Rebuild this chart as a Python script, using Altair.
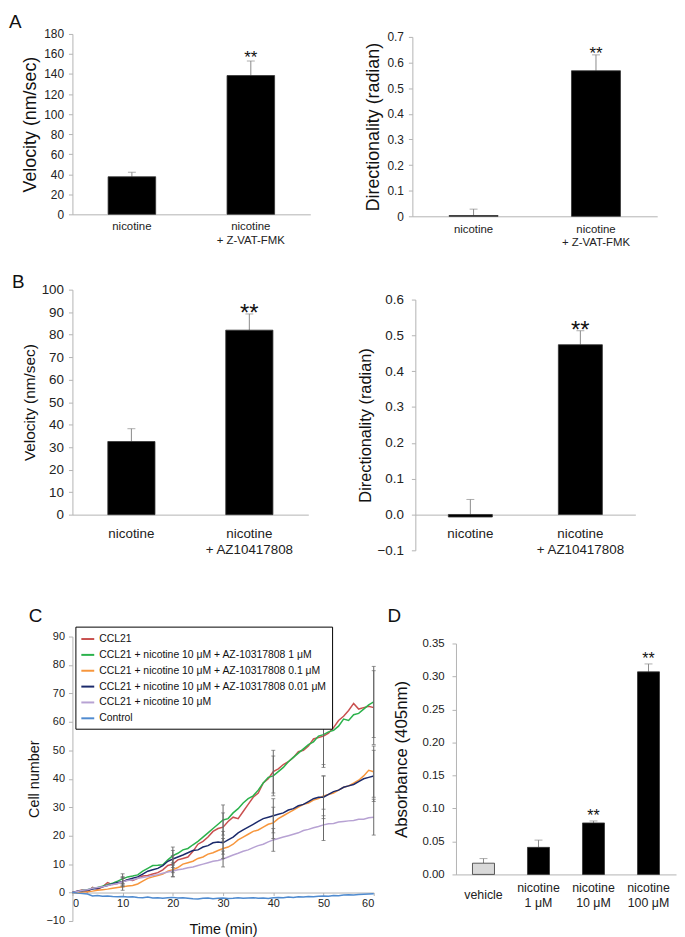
import altair as alt
import pandas as pd

FONT = "Liberation Sans"
AX = "#b3b3b3"
ERR = "#8a8a8a"

# ---------------- data ----------------
a_cats = ["nicotine", "nicotine|+ Z-VAT-FMK"]
a_vel = [37.5, 138.5]
a_vel_err = [4.5, 14.5]
a_dir = [0.003, 0.568]
a_dir_err = [0.025, 0.062]
a_star = ["", "**"]

b_cats = ["nicotine", "nicotine|+ AZ10417808"]
b_vel = [32.5, 82.0]
b_vel_err = [5.7, 7.2]
b_dir = [-0.007, 0.474]
b_dir_err = [0.049, 0.039]
b_star = ["", "**"]

d_cats = ["vehicle", "nicotine|1 μM", "nicotine|10 μM", "nicotine|100 μM"]
d_abs = [0.017, 0.041, 0.078, 0.307]
d_abs_err = [0.007, 0.011, 0.003, 0.012]
d_star = ["", "", "**", "**"]

c_names = [
    "CCL21",
    "CCL21 + nicotine 10 μM + AZ-10317808 1 μM",
    "CCL21 + nicotine 10 μM + AZ-10317808 0.1 μM",
    "CCL21 + nicotine 10 μM + AZ-10317808 0.01 μM",
    "CCL21 + nicotine 10 μM",
    "Control",
]
c_colors = ["#c9504f", "#2bb24c", "#f7963c", "#1b2a6b", "#b7a2d3", "#4f8bd0"]
c_time = list(range(0, 61))
c_red = [0, 0.5, 1.0, 0.2, 1.8, 1.2, 2.0, 3.5, 2.8, 3.2, 3.8, 4.5, 4.2, 5.0, 5.8, 6.0, 6.5, 7.0, 8.0, 9.5,
         10, 11.5, 12, 12.5, 14.5, 17, 18, 19.5, 21.5, 22.5, 23, 25, 26.5, 26, 28.5, 31, 33.5, 35, 38.5, 40,
         42.5, 43.5, 45, 46, 47.5, 49.5, 50, 51.5, 54, 54.5, 55, 56, 58, 60.5, 62, 64, 66.5, 64.5, 65, 65.5, 65]
c_green = [0, 0.3, 0.8, 1.0, 1.5, 1.8, 2.2, 2.8, 3.3, 4.0, 4.8, 5.5, 5.8, 6.2, 7.5, 8.5, 9.5, 9.6, 9.8, 11.5,
           13, 13.8, 15, 15.5, 16.8, 18, 19.5, 21, 22.5, 24, 25.5, 26, 28, 29.5, 31.5, 33, 34, 36, 38.5, 40.5,
           41, 42.5, 44, 46, 47.5, 49, 50.5, 52, 53, 55, 55.5, 56.5, 57, 58.5, 61, 60.5, 62.5, 63, 64.5, 66, 67]
c_orange = [0, -0.2, 0.2, 0.3, 0.5, 0.8, 1.0, 1.2, 1.5, 1.8, 2.0, 2.3, 2.5, 3.0, 4.0, 5.0, 5.5, 6.0, 6.5, 7.5,
            8.0, 8.8, 10, 10.5, 11, 12, 12.5, 13.5, 14, 14.8, 15.5, 16, 17, 18.5, 19.5, 20.5, 21.5, 22, 23, 24,
            24.5, 26, 27, 28, 29, 30, 31, 31.5, 32.5, 33, 34, 34.5, 35, 36, 37, 37.5, 38.5, 39.5, 41, 43, 42.5]
c_navy = [0, 0.5, 0.6, 0.8, 1.2, 1.5, 2.0, 2.5, 3.0, 3.5, 3.8, 4.5, 5.0, 5.5, 6.5, 7.5, 8.0, 8.5, 9.5, 11,
          11.8, 12.5, 13.2, 14, 14.8, 15, 16, 16.5, 17.5, 17.8, 17.5, 18.5, 19.5, 21, 22, 23, 24, 25, 26, 26.5,
          27, 27.5, 28, 29, 29.5, 30.5, 31, 32, 33, 33.5, 33.5, 34.5, 35.5, 36, 37, 37.5, 38, 39, 40, 40.5, 41]
c_purple = [0, 0.4, 0.8, 1.0, 1.5, 1.8, 2.0, 2.5, 2.8, 3.2, 3.8, 4.2, 4.5, 5.0, 5.3, 5.6, 6.0, 6.3, 6.8, 7.2,
            7.6, 8.0, 8.3, 8.7, 9.0, 9.5, 10, 10.5, 11, 11.3, 11.8, 12.5, 13.2, 13.8, 14.5, 15, 15.8, 16.5, 17, 17.8,
            18.5, 19, 19.5, 20, 20.5, 21, 21.8, 22.2, 22.8, 23.2, 23.8, 24.2, 24.3, 24.8, 25, 25.2, 25.3, 25.8, 25.8, 26.3, 26.5]
c_control = [0, -0.2, -0.3, -0.5, -1.2, -1.0, -1.3, -1.2, -1.4, -1.5, -1.4, -1.6, -1.5, -1.7, -1.8, -1.6, -1.9, -1.8, -2.0, -1.8,
             -1.7, -1.9, -1.8, -2.0, -2.2, -2.3, -2.0, -1.9, -2.2, -2.0, -1.9, -2.1, -2.0, -1.8, -2.0, -1.9, -1.8, -2.0, -1.9, -2.1,
             -1.8, -1.7, -1.8, -1.6, -1.7, -1.5, -1.6, -1.4, -1.5, -1.3, -1.2, -1.3, -1.0, -1.1, -0.9, -0.8, -0.9, -0.7, -0.6, -0.5, -0.4]

c_err_time = [10, 20, 30, 40, 50, 60]
c_err_red = [1.8, 3.0, 5.0, 7.5, 11.0, 13.0]
c_err_green = [1.8, 3.0, 5.3, 7.0, 10.5, 12.5]
c_err_orange = [1.2, 2.5, 3.5, 5.5, 7.0, 9.0]
c_err_navy = [1.5, 3.0, 4.0, 6.0, 7.5, 9.0]
c_err_purple = [1.2, 2.0, 2.8, 4.0, 5.5, 6.3]

# ---------------- helpers ----------------

def letter(ch, dx, dy, fs=19):
    return alt.Chart(pd.DataFrame({"t": [ch]})).mark_text(
        align="left", baseline="top", fontSize=fs, font=FONT, color="#111"
    ).encode(x=alt.value(dx), y=alt.value(dy), text="t:N")


def bar_panel(cats, vals, errs, stars, w, h, ydom, yvals, yfmt, ytitle, extra,
              lab_fs, tick_fs, ytitle_fs, star_fs, star_dy, x_offset=0, lab_pad=6,
              lab_lh=14, ytitle_pad=4, y_lab_pad=5, bar_stroke="#333", vehicle=False,
              lab_pad_vehicle=None, top_gap=0):
    df = pd.DataFrame({"cat": cats, "val": vals, "err": errs, "star": stars})
    df["top"] = df["val"] + df["err"]
    lp = lab_pad
    if lab_pad_vehicle is not None:
        lp = {"condition": {"test": "datum.value == 'vehicle'", "value": lab_pad_vehicle}, "value": lab_pad}
    x = alt.X("cat:N", sort=cats,
              scale=alt.Scale(paddingInner=0.6, paddingOuter=0.3),
              axis=alt.Axis(title=None, labelAngle=0, labelExpr="split(datum.label, '|')",
                            ticks=False, labelFontSize=lab_fs, labelPadding=lp,
                            labelLineHeight=lab_lh, offset=x_offset, labelColor="#222"))
    yaxis = alt.Axis(values=yvals, tickCount=len(yvals), format=yfmt, title=ytitle, titleFontSize=ytitle_fs,
                     labelFontSize=tick_fs, tickSize=4, labelPadding=y_lab_pad,
                     titlePadding=ytitle_pad, labelOverlap=False)
    if top_gap:
        yscale = alt.Scale(domain=ydom, nice=False, range=[h, top_gap])
    else:
        yscale = alt.Scale(domain=ydom, nice=False)
    y = alt.Y("val:Q", scale=yscale, axis=yaxis)
    ytop = alt.Y("top:Q", scale=yscale, axis=yaxis)
    base = alt.Chart(df)
    if vehicle:
        fill = alt.condition(alt.datum.cat == "vehicle", alt.value("#d9d9d9"), alt.value("black"))
    else:
        fill = alt.value("black")
    bars = base.mark_bar(stroke=bar_stroke, strokeWidth=0.8).encode(x=x, y=y, y2=alt.datum(0), fill=fill)
    rule = base.mark_rule(color=ERR, strokeWidth=1).encode(x=x, y=y, y2="top:Q")
    cap = base.mark_tick(color=ERR, size=8, thickness=1, orient="horizontal").encode(x=x, y=ytop)
    star = base.transform_filter("datum.star != ''").mark_text(
        fontSize=star_fs, baseline="middle", dy=star_dy, color="#111", font=FONT
    ).encode(x=x, y=ytop, text="star:N")
    layers = [rule, bars, cap, star]
    if extra is not None:
        layers.append(extra)
    return alt.layer(*layers).properties(width=w, height=h)


# ---------------- panels ----------------
A_left = bar_panel(a_cats, a_vel, a_vel_err, a_star, 240, 182, [0, 180], list(range(0, 181, 20)), "d",
                   "Velocity (nm/sec)", letter("A", -64, -21),
                   lab_fs=11.5, tick_fs=12, ytitle_fs=18, star_fs=17, star_dy=-3, lab_pad=6, lab_lh=14)
A_right = bar_panel(a_cats, a_dir, a_dir_err, a_star, 247, 184, [0, 0.7], [0, 0.1, 0.2, 0.3, 0.4, 0.5, 0.6, 0.7], "~g",
                    "Directionality (radian)", None,
                    lab_fs=11.5, tick_fs=12, ytitle_fs=18, star_fs=17, star_dy=-1, lab_pad=7, lab_lh=13,
                    top_gap=3)

B_left = bar_panel(b_cats, b_vel, b_vel_err, b_star, 238, 227, [0, 100], list(range(0, 101, 10)), "d",
                   "Velocity (nm/sec)", letter("B", -61, -17),
                   lab_fs=13.5, tick_fs=13.5, ytitle_fs=15.5, star_fs=24, star_dy=0, lab_pad=12, lab_lh=16)
B_right = bar_panel(b_cats, b_dir, b_dir_err, b_star, 222, 263, [-0.1, 0.6], [-0.1, 0, 0.1, 0.2, 0.3, 0.4, 0.5, 0.6], ".1f",
                    "Directionality (radian)", None,
                    lab_fs=13.5, tick_fs=13.5, ytitle_fs=16.5, star_fs=24, star_dy=0, lab_pad=12, lab_lh=16,
                    x_offset=-36, y_lab_pad=8, top_gap=10)

D = bar_panel(d_cats, d_abs, d_abs_err, d_star, 222, 240, [0, 0.35],
              [0, 0.05, 0.1, 0.15, 0.2, 0.25, 0.3, 0.35], ".2f",
              "Absorbance (405nm)", letter("D", -69, -30),
              lab_fs=12.5, tick_fs=11.5, ytitle_fs=17, star_fs=16, star_dy=-5, lab_pad=7, lab_lh=15,
              y_lab_pad=8, ytitle_pad=12, vehicle=True, lab_pad_vehicle=14, top_gap=7)

# panel C
rows = []
for name, series in zip(c_names, [c_red, c_green, c_orange, c_navy, c_purple, c_control]):
    for t, v in zip(c_time, series):
        rows.append({"s": name, "t": t, "v": v})
df_lines = pd.DataFrame(rows)

erows = []
for name, series, errs in zip(c_names[:5], [c_red, c_green, c_orange, c_navy, c_purple],
                              [c_err_red, c_err_green, c_err_orange, c_err_navy, c_err_purple]):
    for t, e in zip(c_err_time, errs):
        m = series[t]
        erows.append({"s": name, "t": t, "lo": m - e, "hi": m + e})
df_err = pd.DataFrame(erows)

xvals = [0, 10, 20, 30, 40, 50, 60]
yvals_c = list(range(-10, 91, 10))
cxs = alt.Scale(domain=[0, 60], nice=False)
cys = alt.Scale(domain=[-10, 90], nice=False)
cx_axis = alt.Axis(values=xvals, tickCount=len(xvals), title="Time (min)", offset=-28.7,
                   tickSize=3, labelPadding=2, labelFontSize=11, titleFontSize=14.5,
                   titlePadding=14, labelOverlap=False)
cy_axis = alt.Axis(values=yvals_c, tickCount=len(yvals_c), title="Cell number", tickSize=4, labelPadding=4,
                   labelFontSize=11, titleFontSize=14.5, titlePadding=5, labelOverlap=False)
cx = alt.X("t:Q", scale=cxs, axis=cx_axis)
lines = alt.Chart(df_lines).mark_line(strokeWidth=1.5).encode(
    x=cx,
    y=alt.Y("v:Q", scale=cys, axis=cy_axis),
    color=alt.Color("s:N", sort=c_names,
                    scale=alt.Scale(domain=c_names, range=c_colors),
                    legend=alt.Legend(title=None, orient="none", legendX=3, legendY=-10,
                                      symbolType="stroke", symbolSize=169, symbolStrokeWidth=2,
                                      labelFontSize=10.5, labelFont=FONT, labelColor="#111",
                                      fillColor="white", strokeColor="black", padding=5,
                                      rowPadding=3, labelLimit=400)),
    detail="s:N",
)
eb = alt.Chart(df_err).mark_rule(color="#666", strokeWidth=1).encode(
    x=cx, y=alt.Y("lo:Q", scale=cys, axis=cy_axis), y2="hi:Q")
eb_lo = alt.Chart(df_err).mark_tick(color="#666", size=4, thickness=1, orient="horizontal").encode(
    x=cx, y=alt.Y("lo:Q", scale=cys, axis=cy_axis))
eb_hi = alt.Chart(df_err).mark_tick(color="#666", size=4, thickness=1, orient="horizontal").encode(
    x=cx, y=alt.Y("hi:Q", scale=cys, axis=cy_axis))
C = alt.layer(lines, eb, eb_lo, eb_hi, letter("C", -44, -30)).properties(width=304, height=287)

rowA = alt.hconcat(A_left, A_right, spacing=53)
rowB = alt.hconcat(B_left, B_right, spacing=47)
rowC = alt.hconcat(C, D, spacing=9).resolve_scale(color="independent").resolve_legend(color="independent")
topAB = alt.vconcat(rowA, rowB, spacing=24)

chart = alt.vconcat(topAB, rowC, spacing=49).resolve_scale(color="independent").resolve_legend(
    color="independent").properties(padding=0).configure_axis(
    grid=False, labelFont=FONT, titleFont=FONT, titleFontWeight="normal",
    domainColor=AX, tickColor=AX, labelColor="#222", titleColor="#111"
).configure_view(stroke="transparent").configure_legend(labelFont=FONT)

chart.save("out.html", embed_options={"renderer": "svg", "actions": False})
